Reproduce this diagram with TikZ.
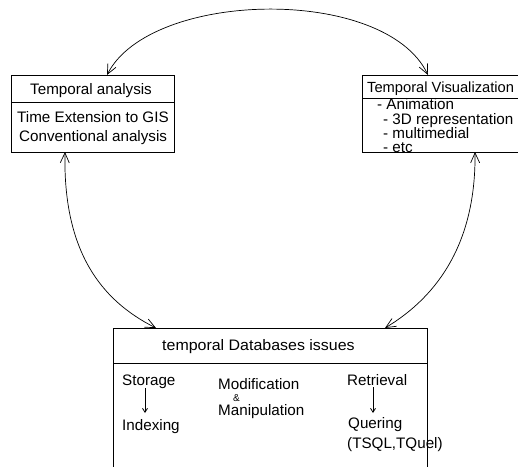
\documentclass[tikz,border=0pt]{standalone}
\usepackage{fontspec}
\setmainfont{Liberation Sans}
\usetikzlibrary{arrows.meta}
\tikzset{
  box/.style={draw, line width=0.9pt, inner sep=0pt, anchor=north west},
  divline/.style={line width=0.9pt},
  txt/.style={inner sep=0pt, anchor=west, text height=10.4pt, text depth=0pt, font=\fontsize{15.2}{16}\selectfont},
  link/.style={line width=0.7pt, {Straight Barb[length=10pt,width=9pt]}-{Straight Barb[length=10pt,width=9pt]}},
  small/.style={line width=0.8pt, -{Straight Barb[length=4pt,width=5pt]}}
}
\begin{document}
\begin{tikzpicture}[x=1pt,y=-1pt]
\clip (0,0) rectangle (518,466);
% boxes
\node[box, minimum width=163pt, minimum height=77pt] (ta) at (11,75) {};
\draw[divline] (11,102) -- (174,102);
\node[box, minimum width=175pt, minimum height=77pt] (tv) at (362,75) {};
\draw[divline] (362,98) -- (537,98);
\node[box, minimum width=314pt, minimum height=150pt] (db) at (113,328) {};
\draw[divline] (113,363) -- (427,363);
% left box texts
\node[txt] (ta1) at (30,89) {Temporal analysis};
\node[txt] (ta2) at (17,117) {Time Extension to GIS};
\node[txt] (ta3) at (19,136) {Conventional analysis};
% right box texts
\node[txt, font=\fontsize{14.7}{16}\selectfont] (tv1) at (367,87) {Temporal Visualization};
\node[txt] (tv2) at (377,104) {- Animation};
\node[txt] (tv3) at (383,119) {- 3D representation};
\node[txt] (tv4) at (383,133) {- multimedial};
\node[txt] (tv5) at (383,147) {- etc};
% bottom box texts
\node[txt] (db1) at (162,345) {\scalebox{1.05}[1]{temporal Databases issues}};
\node[txt] (st) at (122,380) {Storage};
\node[txt] (ix) at (122,425) {Indexing};
\node[txt] (mo) at (218,384) {Modification};
\node[txt, text height=7pt, font=\fontsize{10}{11}\selectfont] (amp) at (233,398) {\&};
\node[txt] (ma) at (218,410) {Manipulation};
\node[txt] (re) at (347,380) {Retrieval};
\node[txt] (qu) at (348,423) {Quering};
\node[txt] (tq) at (347,443) {(TSQL,TQuel)};
% inner arrows
\coordinate (s1) at (145,388); \coordinate (s2) at (145,413);
\coordinate (r1) at (373,387); \coordinate (r2) at (373,413);
\draw[small] (s1) -- (s2);
\draw[small] (r1) -- (r2);
% connector end points
\coordinate (a1) at (107,75);
\coordinate (a2) at (428,75);
\coordinate (b1) at (65,152);
\coordinate (b2) at (156,328);
\coordinate (c1) at (475,152);
\coordinate (c2) at (385,328);
\draw[link] (a1) .. controls (150,-10) and (385,-15) .. (a2);
\draw[link] (b1) .. controls (63,250) and (100,300) .. (b2);
\draw[link] (c1) .. controls (476,240) and (440,295) .. (c2);
\end{tikzpicture}
\end{document}
